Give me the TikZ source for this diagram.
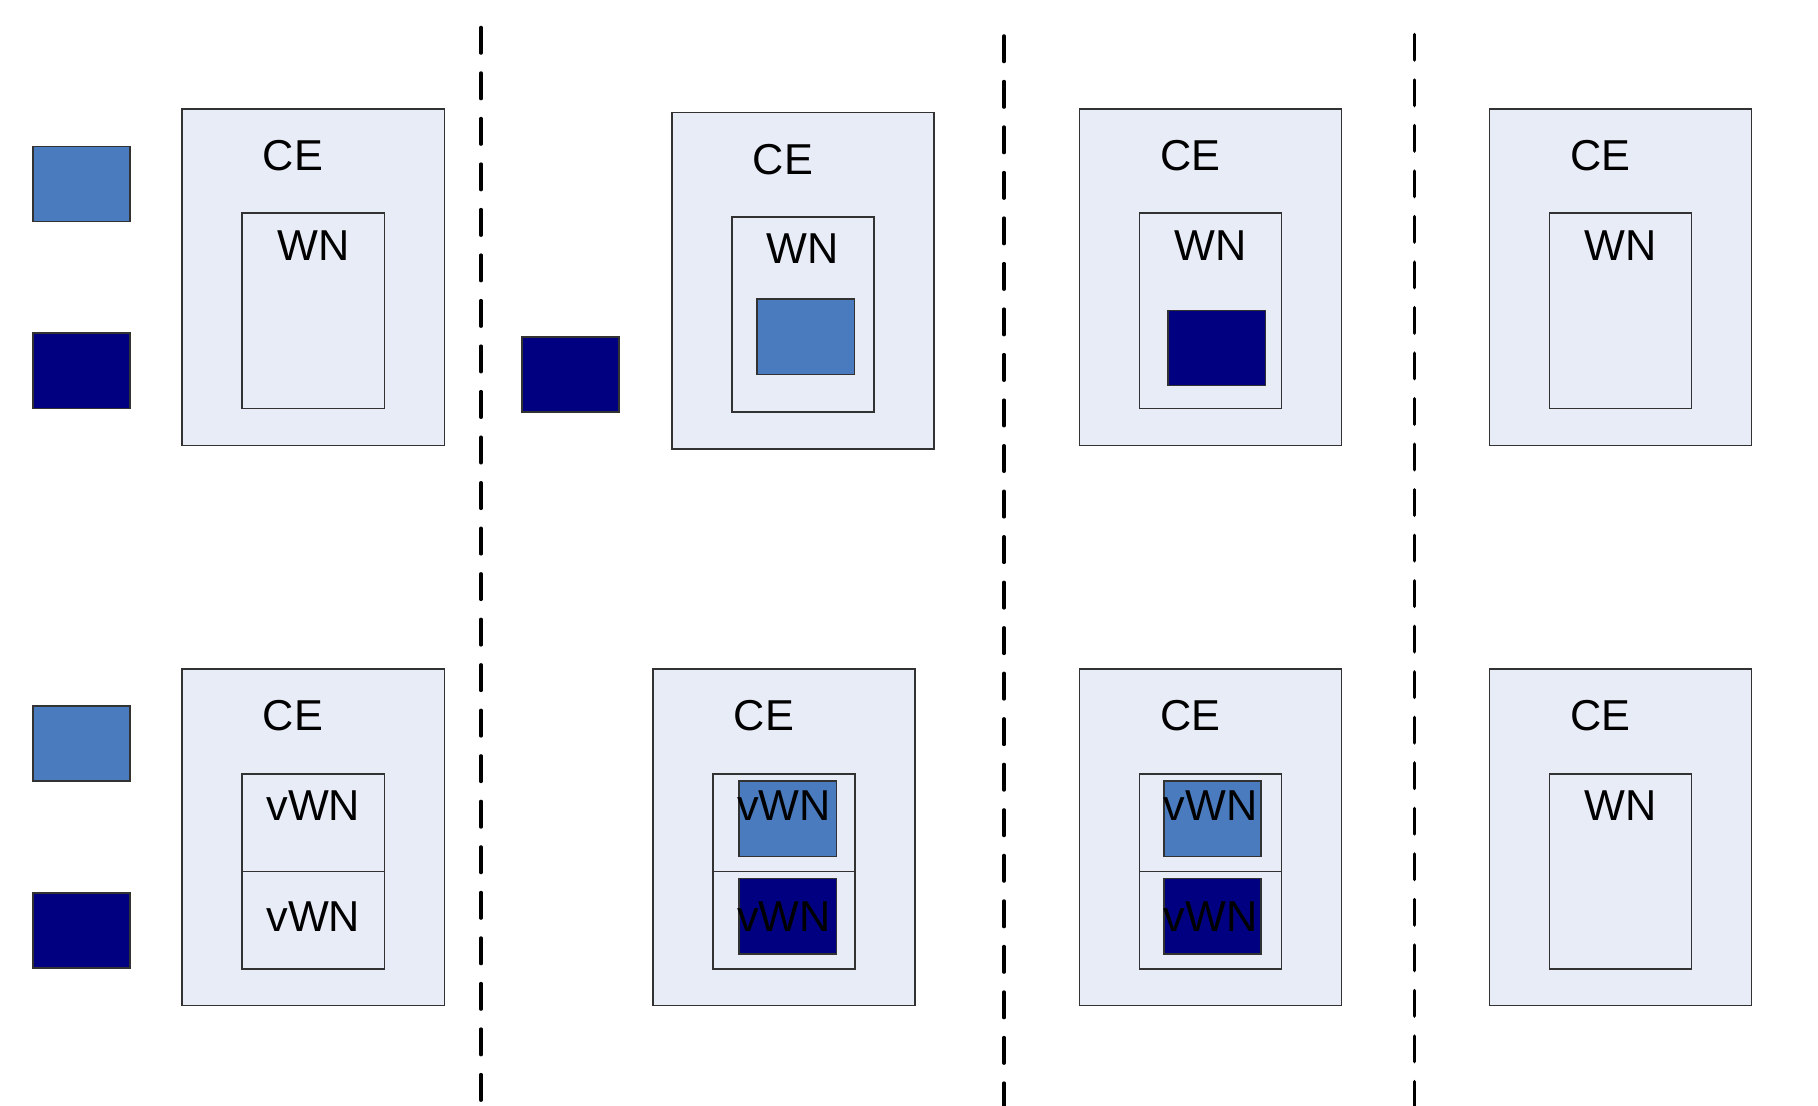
\documentclass[tikz,border=0pt]{standalone}
\usepackage{fontspec}
\setmainfont{Liberation Sans}
\definecolor{lb}{RGB}{74,123,191}
\definecolor{dk}{RGB}{0,0,128}
\definecolor{cefill}{RGB}{232,236,247}
\definecolor{edge}{RGB}{50,50,50}
\begin{document}
\begin{tikzpicture}[x=0.01cm,y=-0.01cm,
  box/.style={draw=edge, line width=0.45pt, inner sep=0pt, outer sep=0pt},
  ce/.style={box, fill=cefill, minimum width=2.62cm, minimum height=3.36cm},
  wn/.style={box, fill=cefill, minimum width=1.42cm, minimum height=1.95cm},
  sq/.style={box, minimum width=0.97cm, minimum height=0.75cm},
  lbsq/.style={sq, fill=lb},
  dksq/.style={sq, fill=dk},
  lbl/.style={anchor=base, font=\fontsize{12.3pt}{14pt}\selectfont, inner sep=0pt},
  sepline/.style={line width=1pt, line cap=round, dash pattern=on 0.255cm off 0.2cm}]
\useasboundingbox[fill=white] (0,0) rectangle (1818,1106);
% separators
\coordinate (t1) at (481,27.5);   \coordinate (b1) at (481,1106);
\coordinate (t2) at (1004,36);    \coordinate (b2) at (1004,1106);
\coordinate (t3) at (1414.5,34.5);\coordinate (b3) at (1414.5,1106);
\draw[sepline] (t1) -- (b1);
\draw[sepline] (t2) -- (b2);
\draw[sepline] (t3) -- (b3);
% ---------- row 1 ----------
\node[lbsq] (lb1) at (81.5,184) {};
\node[dksq] (dk1) at (81.5,370.8) {};
\node[ce] (ce1) at (313.3,277.3) {};
\node[wn] (wn1) at (313.3,310.8) {};
\node[lbl] (ce1t) at (293,170.7) {CE};
\node[lbl] (wn1t) at (313.3,260) {WN};

\node[dksq] (dk2) at (570.4,374.5) {};
\node[ce] (ce2) at (803,280.8) {};
\node[wn] (wn2) at (803,314.3) {};
\node[lbsq] (lbin2) at (805.8,336.8) {};
\node[lbl] (ce2t) at (783,174.2) {CE};
\node[lbl] (wn2t) at (803,263.5) {WN};

\node[ce] (ce3) at (1210.4,277.3) {};
\node[wn] (wn3) at (1210.4,310.8) {};
\node[dksq] (dkin3) at (1216.8,347.9) {};
\node[lbl] (ce3t) at (1190.4,170.7) {CE};
\node[lbl] (wn3t) at (1210.4,260) {WN};

\node[ce] (ce4) at (1620.6,277.3) {};
\node[wn] (wn4) at (1620.6,310.8) {};
\node[lbl] (ce4t) at (1600.6,170.7) {CE};
\node[lbl] (wn4t) at (1620.6,260) {WN};
% ---------- row 2 ----------
\node[lbsq] (lb1b) at (81.5,743.7) {};
\node[dksq] (dk1b) at (81.5,930.3) {};
\node[ce] (ce1b) at (313.3,837.3) {};
\node[wn] (vw1) at (313.3,871.3) {};
\draw[edge, line width=0.45pt] (vw1.west) -- (vw1.east);
\node[lbl] (ce1bt) at (293,730.7) {CE};
\node[lbl] (vw1a) at (313.3,820) {vWN};
\node[lbl] (vw1b) at (313.3,931.7) {vWN};

\node[ce] (ce2b) at (784,837.3) {};
\node[wn] (vw2) at (784,871.3) {};
\draw[edge, line width=0.45pt] (vw2.west) -- (vw2.east);
\node[lbsq] (lb2b) at (787.8,818.8) {};
\node[dksq] (dk2b) at (787.8,916.2) {};
\node[lbl] (ce2bt) at (764,730.7) {CE};
\node[lbl] (vw2a) at (784,820) {vWN};
\node[lbl] (vw2b) at (784,931.7) {vWN};

\node[ce] (ce3b) at (1210.4,837.3) {};
\node[wn] (vw3) at (1210.4,871.3) {};
\draw[edge, line width=0.45pt] (vw3.west) -- (vw3.east);
\node[lbsq] (lb3b) at (1212.7,818.8) {};
\node[dksq] (dk3b) at (1212.7,916.2) {};
\node[lbl] (ce3bt) at (1190.4,730.7) {CE};
\node[lbl] (vw3a) at (1210.4,820) {vWN};
\node[lbl] (vw3b) at (1210.4,931.7) {vWN};

\node[ce] (ce4b) at (1620.6,837.3) {};
\node[wn] (wn4b) at (1620.6,871.3) {};
\node[lbl] (ce4bt) at (1600.6,730.7) {CE};
\node[lbl] (wn4bt) at (1620.6,820) {WN};
\end{tikzpicture}
\end{document}
